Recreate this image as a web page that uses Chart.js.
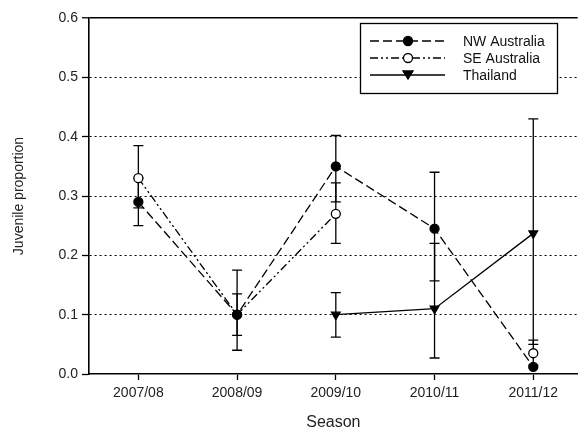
<!DOCTYPE html>
<html>
<head>
<meta charset="utf-8">
<script src="https://cdn.jsdelivr.net/npm/chart.js@4"></script>
<style>
  html, body { margin: 0; padding: 0; background: #fff; }
  #box { position: relative; width: 584px; height: 432px; }
</style>
</head>
<body>
<div id="box"><canvas id="juvChart"></canvas></div>
<script>
// seasons on the x axis
var seasons = ['2007/08', '2008/09', '2009/10', '2010/11', '2011/12'];
var yTicks = [0, 0.1, 0.2, 0.3, 0.4, 0.5, 0.6];

// juvenile proportion per season
var nwValues = [0.29, 0.10, 0.35, 0.245, 0.012];
var nwLow    = [0.25, 0.04, 0.29, 0.157, null];
var nwHigh   = [0.33, 0.175, 0.402, 0.34, null];

var seValues = [0.33, 0.10, 0.27, null, 0.035];
var seLow    = [0.28, 0.065, 0.22, null, 0.015];
var seHigh   = [0.385, 0.135, 0.322, null, 0.057];

var thValues = [null, null, 0.10, 0.11, 0.237];
var thLow    = [null, null, 0.062, 0.027, 0.05];
var thHigh   = [null, null, 0.137, 0.22, 0.43];

var fontFamily = '"Liberation Sans", Arial, sans-serif';

function toPoints(values) {
    return values.map(function (v, i) { return { x: i, y: v }; });
}

// error bars under the markers
var errorBars = {
    id: 'errorBars',
    beforeDatasetsDraw: function (chart) {
        var ctx = chart.ctx;
        var xs = chart.scales.x, ys = chart.scales.y;
        var sets = [[nwLow, nwHigh], [seLow, seHigh], [thLow, thHigh]];
        ctx.save();
        ctx.strokeStyle = '#000';
        ctx.lineWidth = 1.3;
        sets.forEach(function (s) {
            for (var i = 0; i < seasons.length; i++) {
                if (s[0][i] == null || s[1][i] == null) continue;
                var px = xs.getPixelForValue(i);
                var lo = ys.getPixelForValue(s[0][i]);
                var hi = ys.getPixelForValue(s[1][i]);
                ctx.beginPath();
                ctx.moveTo(px, lo); ctx.lineTo(px, hi);
                ctx.moveTo(px - 5, lo); ctx.lineTo(px + 5, lo);
                ctx.moveTo(px - 5, hi); ctx.lineTo(px + 5, hi);
                ctx.stroke();
            }
        });
        ctx.restore();
    }
};

// boxed legend in the top right
var boxLegend = {
    id: 'boxLegend',
    afterDraw: function (chart) {
        var ctx = chart.ctx;
        ctx.save();
        ctx.fillStyle = '#fff';
        ctx.fillRect(360, 23, 197, 70);
        ctx.strokeStyle = '#000';
        ctx.lineWidth = 1.3;
        ctx.strokeRect(360.5, 23.5, 197, 70);
        var rows = [41, 58, 75];
        chart.data.datasets.forEach(function (ds, i) {
            var y = rows[i];
            ctx.strokeStyle = '#000';
            ctx.lineWidth = 1.3;
            ctx.setLineDash(ds.borderDash || []);
            ctx.beginPath();
            ctx.moveTo(370, y); ctx.lineTo(445, y);
            ctx.stroke();
            ctx.setLineDash([]);
            ctx.beginPath();
            if (ds.pointStyle === 'triangle') {
                ctx.moveTo(403, y - 4); ctx.lineTo(413, y - 4); ctx.lineTo(408, y + 4);
                ctx.closePath();
            } else {
                ctx.arc(408, y, 4.5, 0, Math.PI * 2);
            }
            ctx.fillStyle = ds.pointBackgroundColor;
            ctx.fill();
            ctx.stroke();
            ctx.fillStyle = '#111';
            ctx.font = '14px ' + fontFamily;
            ctx.textBaseline = 'middle';
            ctx.fillText(ds.label, 463, y + 1);
        });
        ctx.restore();
    }
};

document.addEventListener('DOMContentLoaded', function () {
    var canvas = document.querySelector('#juvChart');
    new Chart(canvas, {
        type: 'line',
        data: {
            datasets: [{
                label: 'NW Australia',
                data: toPoints(nwValues),
                borderColor: '#000',
                borderWidth: 1.3,
                borderDash: [9, 4],
                pointStyle: 'circle',
                pointRadius: 4.5,
                pointBackgroundColor: '#000',
                pointBorderColor: '#000',
                spanGaps: false
            }, {
                label: 'SE Australia',
                data: toPoints(seValues),
                borderColor: '#000',
                borderWidth: 1.3,
                borderDash: [8, 3, 2, 3, 2, 3],
                pointStyle: 'circle',
                pointRadius: 4.5,
                pointBackgroundColor: '#fff',
                pointBorderColor: '#000',
                pointBorderWidth: 1.3,
                spanGaps: false
            }, {
                label: 'Thailand',
                data: toPoints(thValues),
                borderColor: '#000',
                borderWidth: 1.3,
                pointStyle: 'triangle',
                pointRotation: 180,
                pointRadius: 5,
                pointBackgroundColor: '#000',
                pointBorderColor: '#000',
                spanGaps: false
            }]
        },
        options: {
            responsive: true,
            maintainAspectRatio: false,
            animation: false,
            layout: { padding: { top: 18, right: 0, left: 0, bottom: 0 } },
            scales: {
                x: {
                    type: 'linear',
                    min: -0.5,
                    max: 4.45,
                    afterBuildTicks: function (scale) {
                        scale.ticks = seasons.map(function (s, i) { return { value: i }; });
                    },
                    afterFit: function (scale) { scale.height = 58; },
                    ticks: {
                        callback: function (v) { return seasons[v]; },
                        color: '#222',
                        font: { family: fontFamily, size: 14 },
                        padding: 5,
                        maxRotation: 0
                    },
                    grid: { drawOnChartArea: false, drawTicks: true, tickLength: 6, tickColor: '#000', tickWidth: 1.3 },
                    border: { color: '#000', width: 1.6 },
                    title: {
                        display: true,
                        text: 'Season',
                        color: '#222',
                        font: { family: fontFamily, size: 16 },
                        padding: { top: 0, bottom: 0 }
                    }
                },
                y: {
                    min: 0,
                    max: 0.6,
                    afterBuildTicks: function (scale) {
                        scale.ticks = yTicks.map(function (v) { return { value: v }; });
                    },
                    afterFit: function (scale) { scale.width = 89; },
                    ticks: {
                        callback: function (v) { return v.toFixed(1); },
                        color: '#222',
                        font: { family: fontFamily, size: 14 },
                        padding: 4
                    },
                    grid: {
                        color: function (c) { return c.tick && c.tick.value === 0 ? 'rgba(0,0,0,0)' : '#000'; },
                        lineWidth: function (c) { return c.tick && c.tick.value >= 0.6 ? 1.6 : 1; },
                        drawTicks: true,
                        tickLength: 7,
                        tickColor: '#000',
                        tickWidth: 1.3
                    },
                    border: {
                        color: '#000',
                        width: 1.6,
                        dash: function (c) { return c.tick && c.tick.value >= 0.6 ? [] : [2, 3]; }
                    },
                    title: {
                        display: true,
                        text: 'Juvenile proportion',
                        color: '#222',
                        font: { family: fontFamily, size: 14 },
                        padding: { top: 11, bottom: 0 }
                    }
                }
            },
            plugins: {
                legend: { display: false },
                tooltip: { enabled: false }
            }
        },
        plugins: [errorBars, boxLegend]
    });
});
</script>
</body>
</html>
